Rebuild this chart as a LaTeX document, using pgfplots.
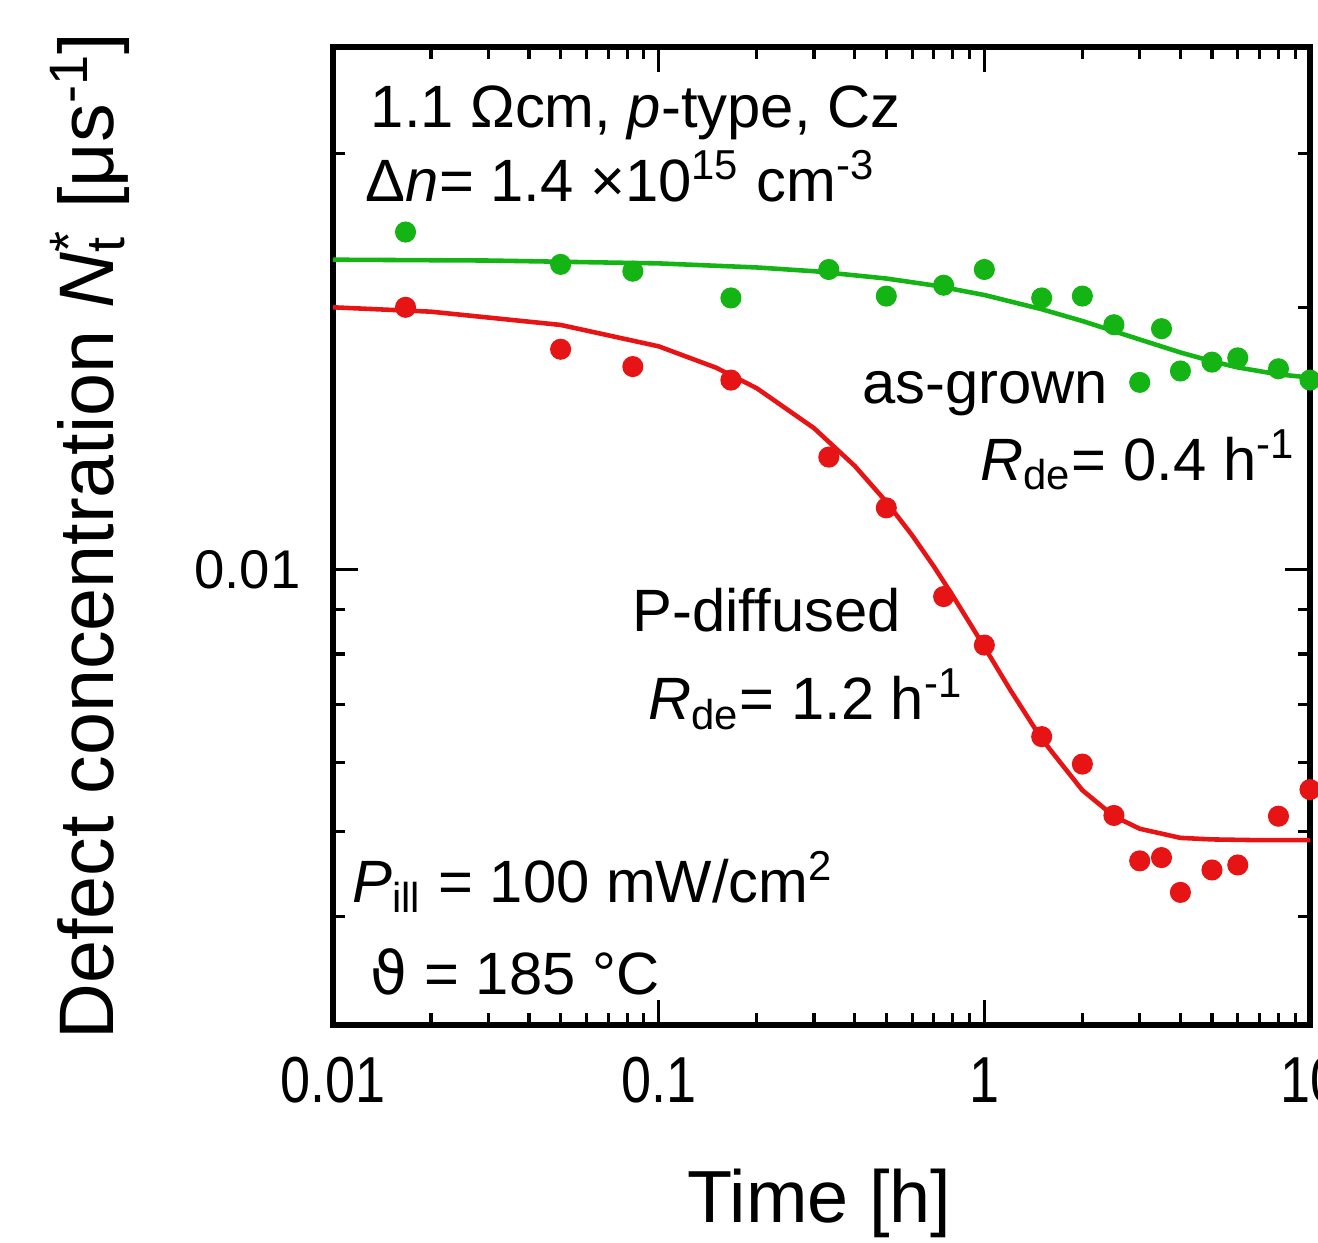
\documentclass[border=0pt]{standalone}
\usepackage{fontspec}
\setmainfont{Liberation Sans}
\newfontfamily\dejavu{DejaVu Sans}
\usepackage{graphicx}
\usepackage{pgfplots}
\pgfplotsset{compat=1.18}
\definecolor{fitgreen}{RGB}{20,180,20}
\definecolor{fitred}{RGB}{230,20,20}
\newcommand{\xtl}[1]{\scalebox{0.83}[1]{#1}}

\begin{document}
\begin{tikzpicture}
  \begin{axis}[
      xmode=log, ymode=log,
      scale only axis,
      width=9.77cm, height=9.78cm,
      xmin=0.01, xmax=10,
      ymin=0.003, ymax=0.0398,
      clip=false,
      axis line style={line width=1.5pt},
      tick align=inside,
      major tick length=0.25cm,
      minor tick length=0.12cm,
      every tick/.style={black, line width=0.9pt},
      xtick={0.01,0.1,1,10},
      xticklabels={\xtl{0.01},\xtl{0.1},\xtl{1},\xtl{10}},
      minor xtick={0.02,0.03,0.04,0.05,0.06,0.07,0.08,0.09,0.2,0.3,0.4,0.5,0.6,0.7,0.8,0.9,2,3,4,5,6,7,8,9},
      ytick={0.01},
      yticklabels={0.01},
      minor ytick={0.004,0.005,0.006,0.007,0.008,0.009,0.02,0.03},
      xticklabel style={font=\fontsize{18.5}{20}\selectfont, yshift=-0.2cm},
      yticklabel style={font=\fontsize{15.5}{18}\selectfont, xshift=-0.2cm},
      xlabel={Time [h]},
      ylabel={Defect concentration \textit{N}\rlap{\textsubscript{t}}\textsuperscript{*} [μs\textsuperscript{-1}]},
      xlabel style={font=\fontsize{21}{24}\selectfont, at={(axis description cs:0.498,-0.182)}, anchor=center},
      ylabel style={font=\fontsize{22}{24}\selectfont, at={(axis description cs:-0.249,0.5)}, anchor=center},
    ]
    \coordinate (sw) at (rel axis cs:0,0);
    \coordinate (ne) at (rel axis cs:1,1);

    % fits
    \addplot[fitgreen, line width=1.3pt, no marks] coordinates {
      (0.01,0.02268) (0.03,0.02263) (0.1,0.02246) (0.2,0.02222) (0.3,0.02200)
      (0.5,0.02158) (0.7,0.02119) (1,0.02066) (1.5,0.01990) (2,0.01929)
      (3,0.01837) (4,0.01775) (5,0.01734) (6,0.01706) (8,0.01675) (10,0.01661)};
    \addplot[fitred, line width=1.3pt, no marks] coordinates {
      (0.01,0.02000) (0.02,0.01977) (0.05,0.01909) (0.1,0.01804) (0.15,0.01705)
      (0.2,0.01615) (0.3,0.01453) (0.4,0.01315) (0.5,0.01196) (0.6,0.01095)
      (0.7,0.01008) (0.8,0.00933) (0.9,0.00869) (1,0.00815) (1.2,0.00728)
      (1.5,0.00639) (2,0.00558) (2.5,0.00521) (3,0.00504) (4,0.00492)
      (5,0.00490) (7,0.00489) (10,0.00489)};

    % measured
    \addplot[only marks, mark=*, mark size=2.8pt, fitgreen] coordinates {
      (0.0167,0.0244) (0.05,0.0224) (0.0833,0.0220) (0.1667,0.0205) (0.333,0.0221)
      (0.5,0.0206) (0.75,0.0212) (1.0,0.0221) (1.5,0.0205) (2.0,0.0206)
      (2.5,0.0191) (3.5,0.0189) (3.0,0.0164) (4.0,0.0169) (5.0,0.0173)
      (6.0,0.0175) (8.0,0.0170) (10,0.0165)};
    \addplot[only marks, mark=*, mark size=2.8pt, fitred] coordinates {
      (0.0167,0.0200) (0.05,0.0179) (0.0833,0.0171) (0.1667,0.0165) (0.333,0.01346)
      (0.5,0.01177) (0.75,0.00931) (1.0,0.00819) (1.5,0.00643) (2.0,0.00598)
      (2.5,0.00522) (3.0,0.00463) (3.5,0.00467) (4.0,0.00426) (5.0,0.00452)
      (6.0,0.00458) (8.0,0.00521) (10,0.00559)};

    \begin{scope}[every node/.style={anchor=base west, inner sep=0pt, font=\fontsize{17}{20}\selectfont}]
      \node at (rel axis cs:0.038,0.918) {1.1 Ωcm, \textit{p}-type, Cz};
      \node at (rel axis cs:0.033,0.842) {Δ\textit{n}= 1.4 ×10\textsuperscript{15} cm\textsuperscript{-3}};
      \node at (rel axis cs:0.541,0.636) {as-grown};
      \node at (rel axis cs:0.662,0.557) {\textit{R}\textsubscript{de}= 0.4 h\textsuperscript{-1}};
      \node at (rel axis cs:0.306,0.402) {P-diffused};
      \node at (rel axis cs:0.322,0.312) {\textit{R}\textsubscript{de}= 1.2 h\textsuperscript{-1}};
      \node at (rel axis cs:0.019,0.125) {\textit{P}\textsubscript{ill} = 100 mW/cm\textsuperscript{2}};
      \node at (rel axis cs:0.038,0.031) {{\dejavu ϑ} = 185 °C};
    \end{scope}
  \end{axis}
  \pgfresetboundingbox
  \useasboundingbox ([shift={(-3.33cm,-2.17cm)}]sw) rectangle ([shift={(0.08cm,0.47cm)}]ne);
\end{tikzpicture}
\end{document}
